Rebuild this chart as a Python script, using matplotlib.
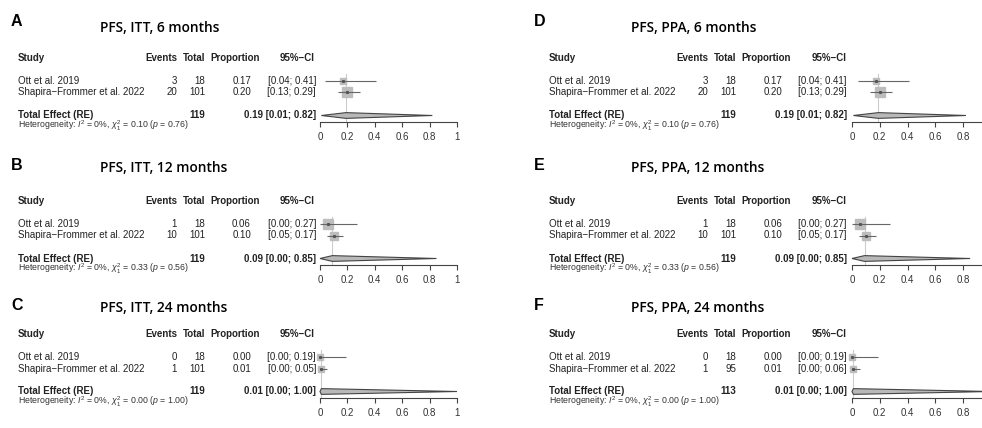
import matplotlib
matplotlib.use("Agg")
import matplotlib.pyplot as plt
import matplotlib.transforms as mtransforms
from matplotlib.patches import Polygon

plt.rcParams["font.family"] = ["Liberation Sans", "DejaVu Sans"]
plt.rcParams["mathtext.fontset"] = "custom"
plt.rcParams["mathtext.rm"] = "Liberation Sans"
plt.rcParams["mathtext.it"] = "Liberation Sans:italic"
plt.rcParams["mathtext.bf"] = "Liberation Sans:bold"

# ---------------- data ----------------
panel_letters = ["A", "B", "C", "D", "E", "F"]
panel_titles = ["PFS, ITT, 6 months", "PFS, ITT, 12 months", "PFS, ITT, 24 months",
                "PFS, PPA, 6 months", "PFS, PPA, 12 months", "PFS, PPA, 24 months"]
studies = ["Ott et al. 2019", "Shapira\u2212Frommer et al. 2022"]
events = [[3, 20], [1, 10], [0, 1], [3, 20], [1, 10], [0, 1]]
totals = [[18, 101], [18, 101], [18, 101], [18, 101], [18, 101], [18, 95]]
props = [[0.17, 0.20], [0.06, 0.10], [0.00, 0.01], [0.17, 0.20], [0.06, 0.10], [0.00, 0.01]]
ci_lo = [[0.04, 0.13], [0.00, 0.05], [0.00, 0.00], [0.04, 0.13], [0.00, 0.05], [0.00, 0.00]]
ci_hi = [[0.41, 0.29], [0.27, 0.17], [0.19, 0.05], [0.41, 0.29], [0.27, 0.17], [0.19, 0.06]]
rel_weight = [[0.45, 0.8], [0.8, 0.6], [0.3, 0.3], [0.45, 0.8], [0.8, 0.6], [0.3, 0.3]]
pooled = [0.19, 0.09, 0.01, 0.19, 0.09, 0.01]
pooled_lo = [0.01, 0.00, 0.00, 0.01, 0.00, 0.00]
pooled_hi = [0.82, 0.85, 1.00, 0.82, 0.85, 1.00]
pooled_n = [119, 119, 119, 119, 119, 113]
i2 = ["0%"] * 6
chi2 = ["0.10", "0.33", "0.00", "0.10", "0.33", "0.00"]
pvals = ["0.76", "0.56", "1.00", "0.76", "0.56", "1.00"]
tick_vals = [0, 0.2, 0.4, 0.6, 0.8, 1.0]
tick_labels = ["0", "0.2", "0.4", "0.6", "0.8", "1"]

# ---------------- layout (pixels) ----------------
W, H = 982, 428
fig = plt.figure(figsize=(W / 100, H / 100), dpi=100)
fig.patch.set_facecolor("white")

ROW = 11.5
header_y = [58, 201, 334]
title_y = [28, 168, 308]
letter_y = [22, 165, 305]
col_off = [0, 531]
letter_x = [11, 534]
axis_x = [(320, 457), (852, 991)]

TXT = "#222222"
FS = 7.0


def fx(x):
    return x / W


for p in range(6):
    col, r = divmod(p, 3)
    off = col_off[col]
    hy = header_y[r]
    ylo, yhi = -0.8, 7.2
    top_px = hy + ylo * ROW
    h_px = (yhi - ylo) * ROW
    x0, x1 = axis_x[col]
    ax = fig.add_axes([x0 / W, 1 - (top_px + h_px) / H, (x1 - x0) / W, h_px / H])
    ax.set_xlim(0, 1)
    ax.set_ylim(yhi, ylo)
    ax.patch.set_alpha(0)
    for s in ["top", "right", "left"]:
        ax.spines[s].set_visible(False)
    ax.spines["bottom"].set_position(("data", 5.6))
    ax.spines["bottom"].set_bounds(0, 1)
    ax.spines["bottom"].set_color("#444444")
    ax.spines["bottom"].set_linewidth(0.8)
    ax.set_yticks([])
    ax.set_xticks(tick_vals)
    ax.set_xticklabels(tick_labels)
    ax.tick_params(axis="x", direction="out", length=3.5, width=0.8, color="#444444",
                   labelsize=7, labelcolor="#333333", pad=3.2)

    tr = mtransforms.blended_transform_factory(fig.transFigure, ax.transData)

    # letter and title
    fig.text(fx(letter_x[col]), 1 - letter_y[r] / H,
             panel_letters[p], fontsize=11.5, fontweight="bold", color="black",
             va="center", ha="left")
    fig.text(fx(100 + off), 1 - title_y[r] / H, panel_titles[p], fontsize=9.9,
             fontweight="semibold", family=["Open Sans", "DejaVu Sans"],
             va="center", ha="left", color="black")

    # header
    hdr = dict(transform=tr, fontsize=FS, fontweight="bold", va="center", color=TXT)
    ax.text(fx(18 + off), 0, "Study", ha="left", **hdr)
    ax.text(fx(177 + off), 0, "Events", ha="right", **hdr)
    ax.text(fx(205 + off), 0, "Total", ha="right", **hdr)
    ax.text(fx(260 + off), 0, "Proportion", ha="right", **hdr)
    ax.text(fx(315 + off), 0, "95%\u2212CI", ha="right", **hdr)

    # study rows
    reg = dict(transform=tr, fontsize=FS, va="center", color=TXT)
    for i in range(2):
        y = 2 + i
        ax.text(fx(18 + off), y, studies[i], ha="left", **reg)
        ax.text(fx(177 + off), y, f"{events[p][i]}", ha="right", **reg)
        ax.text(fx(205 + off), y, f"{totals[p][i]}", ha="right", **reg)
        ax.text(fx(251 + off), y, f"{props[p][i]:.2f}", ha="right", **reg)
        ax.text(fx(316 + off), y, f"[{ci_lo[p][i]:.2f}; {ci_hi[p][i]:.2f}]", ha="right", **reg)
        # forest marks
        ms = 7.5 * rel_weight[p][i] ** 0.5
        ax.plot([props[p][i]], [y], marker="s", ms=ms, color="#bdbdbd", mec="#bdbdbd",
                zorder=3, clip_on=False)
        ax.plot([ci_lo[p][i], ci_hi[p][i]], [y, y], color="#666666", lw=0.8, zorder=4,
                clip_on=False, solid_capstyle="butt")
        ax.plot([props[p][i]], [y], marker="s", ms=1.2, color="#555555", zorder=5,
                clip_on=False)

    # reference line at pooled estimate
    ax.plot([pooled[p], pooled[p]], [1.4, 5.6], color="#cccccc", lw=0.8, zorder=1)

    # total row
    bld = dict(transform=tr, fontsize=FS, fontweight="bold", va="center", color=TXT)
    ax.text(fx(18 + off), 5, "Total Effect (RE)", ha="left", **bld)
    ax.text(fx(205 + off), 5, f"{pooled_n[p]}", ha="right", **bld)
    ax.text(fx(316 + off), 5,
            f"{pooled[p]:.2f} [{pooled_lo[p]:.2f}; {pooled_hi[p]:.2f}]", ha="right", **bld)
    dh = 0.25
    diamond = Polygon([(pooled_lo[p], 5), (pooled[p], 5 - dh), (pooled_hi[p], 5),
                       (pooled[p], 5 + dh)], closed=True, facecolor="#b8b8b8",
                      edgecolor="#444444", lw=0.8, zorder=4, clip_on=False)
    ax.add_patch(diamond)

    # heterogeneity
    het = (f"Heterogeneity: $I^2$ = {i2[p]}, $\\chi^2_1$ = {chi2[p]} "
           f"($p$ = {pvals[p]})")
    ax.text(fx(18 + off), 5.88, het, transform=tr, fontsize=6.3, va="center",
            ha="left", color="#333333")

fig.savefig("out.png", dpi=100, facecolor="white")
